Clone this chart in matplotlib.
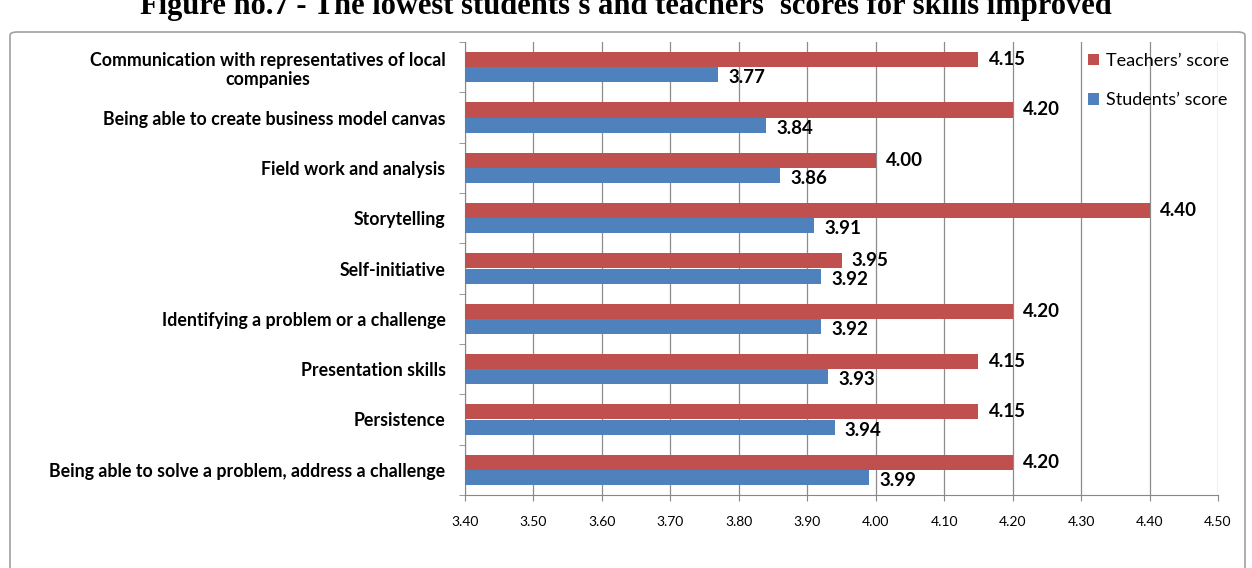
import numpy as np
import matplotlib
matplotlib.use("Agg")
import matplotlib.pyplot as plt
from matplotlib.patches import FancyBboxPatch

skills = [
    "Communication with representatives of local\ncompanies",
    "Being able to create business model canvas",
    "Field work and analysis",
    "Storytelling",
    "Self-initiative",
    "Identifying a problem or a challenge",
    "Presentation skills",
    "Persistence",
    "Being able to solve a problem, address a challenge",
]
teachers = [4.15, 4.20, 4.00, 4.40, 3.95, 4.20, 4.15, 4.15, 4.20]
students = [3.77, 3.84, 3.86, 3.91, 3.92, 3.92, 3.93, 3.94, 3.99]
xticks = [3.40, 3.50, 3.60, 3.70, 3.80, 3.90, 4.00, 4.10, 4.20, 4.30, 4.40, 4.50]

red = "#C0504D"
blue = "#4F81BD"
plt.rcParams["font.family"] = ["Lato", "DejaVu Sans"]

W, H = 1252, 568
fig = plt.figure(figsize=(W / 100, H / 100), dpi=100)

# outer chart frame (bottom runs off the picture)
frame = FancyBboxPatch((10 / W, -0.05), 1235 / W, (H - 32) / H + 0.05,
                       boxstyle="round,pad=0,rounding_size=0.006",
                       transform=fig.transFigure, fill=False,
                       edgecolor="#a0a0a0", lw=1.2)
fig.patches.append(frame)

# title, cut off at the top edge as in the source
fig.text(0.5, 1 - 14 / H, "Figure no.7 - The lowest students's and teachers' scores for skills improved",
         ha="center", va="baseline", fontsize=22, fontweight="bold",
         family=["Liberation Serif", "DejaVu Serif"])

ax = fig.add_axes([465 / W, 1 - 495 / H, (1218 - 465) / W, 453 / H])
y = np.arange(len(skills))
h = 0.3
b1 = ax.barh(y - h / 2, teachers, height=h, color=red, label="Teachers’ score", zorder=3)
b2 = ax.barh(y + h / 2, students, height=h, color=blue, label="Students’ score", zorder=3)

for yi, v in zip(y, teachers):
    ax.text(v + 0.015, yi - h / 2, f"{v:.2f}", va="center", ha="left",
            fontsize=13.5, fontweight="bold", zorder=4)
for yi, v in zip(y, students):
    ax.text(v + 0.015, yi + h / 2 + 0.06, f"{v:.2f}", va="center", ha="left",
            fontsize=13.5, fontweight="bold", zorder=4)

ax.set_xlim(3.4, 4.5)
ax.set_ylim(len(skills) - 0.5, -0.5)
ax.set_xticks(xticks)
ax.set_xticklabels([f"{t:.2f}" for t in xticks], fontsize=10)
ax.set_yticks(y)
ax.set_yticklabels(skills, fontsize=12.8, fontweight="bold", multialignment="center")
ax.set_yticks(np.arange(len(skills) + 1) - 0.5, minor=True)
ax.tick_params(axis="y", which="major", length=0, pad=14)
ax.tick_params(axis="y", which="minor", length=4.5, color="#888888")
ax.tick_params(axis="x", length=4.5, color="#888888", pad=10.5)

ax.xaxis.grid(True, color="#8c8c8c", lw=0.9, zorder=0)
for s in ["top", "right"]:
    ax.spines[s].set_visible(False)
for s in ["left", "bottom"]:
    ax.spines[s].set_color("#888888")

ax.legend(handles=[b1, b2], loc="upper left", bbox_to_anchor=(0.806, 1.012),
          frameon=False, fontsize=13, handlelength=0.6, handleheight=0.6,
          handletextpad=0.4, labelspacing=1.3)

fig.savefig("out.png", dpi=100)
